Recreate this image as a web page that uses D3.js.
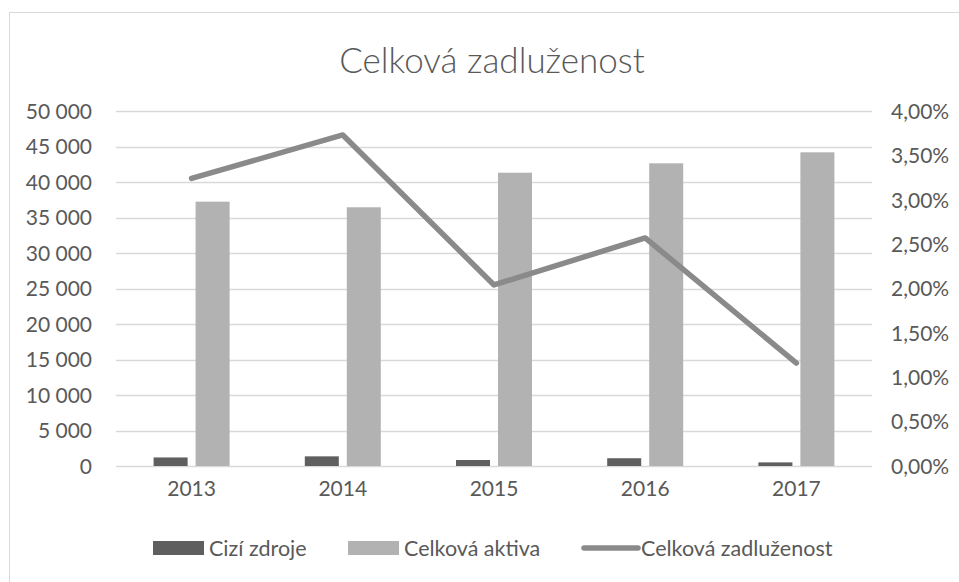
<!DOCTYPE html>
<html lang="cs">
<head>
<meta charset="utf-8">
<title>Celková zadluženost</title>
<style>
  body { margin: 0; background: #fff; }
  svg text { font-family: "Lato", "Liberation Sans", sans-serif; fill: #595959; }
  .grid line { stroke: #d9d9d9; stroke-width: 1.6; }
</style>
</head>
<body>
<svg id="chart" width="959" height="582"></svg>
<script src="https://cdn.jsdelivr.net/npm/d3@7"></script>
<script>
// data
var years = ["2013", "2014", "2015", "2016", "2017"];
var ciziZdroje = [1205, 1360, 845, 1095, 510];
var celkovaAktiva = [37230, 36440, 41310, 42630, 44180];
var zadluzenost = [0.0324, 0.0373, 0.0204, 0.0257, 0.0116];
var leftTicks = [0, 5000, 10000, 15000, 20000, 25000, 30000, 35000, 40000, 45000, 50000];
var rightTicks = [0, 0.005, 0.01, 0.015, 0.02, 0.025, 0.03, 0.035, 0.04];
var seriesNames = ["Cizí zdroje", "Celková aktiva", "Celková zadluženost"];

var svg = d3.select("#chart");
var plot = {left: 116, right: 872, top: 111, bottom: 466};

// chart area border (right and bottom edges sit outside the window)
svg.append("rect")
    .attr("x", 9.5).attr("y", 12.5)
    .attr("width", 980).attr("height", 600)
    .attr("fill", "none").attr("stroke", "#d9d9d9");

svg.append("text")
    .attr("x", 492).attr("y", 73)
    .attr("text-anchor", "middle")
    .style("font-size", "35px")
    .style("font-weight", 300)
    .text("Celková zadluženost");

var x = d3.scaleBand().domain(years).range([plot.left, plot.right]);
var y = d3.scaleLinear().domain([0, 50000]).range([plot.bottom, plot.top]);
var y2 = d3.scaleLinear().domain([0, 0.04]).range([plot.bottom, plot.top]);

var fmtLeft = function(d) { return d3.format(",")(d).replace(/,/g, " "); };
var fmtRight = function(d) { return d3.format(".2f")(d * 100).replace(".", ",") + "%"; };

svg.append("g").attr("class", "grid")
  .selectAll("line").data(leftTicks).enter().append("line")
    .attr("x1", plot.left).attr("x2", plot.right)
    .attr("y1", function(d) { return Math.round(y(d)) + 0.5; })
    .attr("y2", function(d) { return Math.round(y(d)) + 0.5; });

// left axis
var gl = svg.append("g")
    .attr("transform", "translate(" + (plot.left - 24) + ",0)")
    .call(d3.axisLeft(y).tickValues(leftTicks).tickFormat(fmtLeft).tickSize(0).tickPadding(0));
gl.select(".domain").remove();
gl.selectAll("text").style("font-size", "21px").attr("dy", "0.35em");

// right axis
var gr = svg.append("g")
    .attr("transform", "translate(" + (plot.right + 19) + ",0)")
    .call(d3.axisRight(y2).tickValues(rightTicks).tickFormat(fmtRight).tickSize(0).tickPadding(0));
gr.select(".domain").remove();
gr.selectAll("text").style("font-size", "21px").attr("dy", "0.35em");

// bottom axis
var gb = svg.append("g")
    .attr("transform", "translate(0," + plot.bottom + ")")
    .call(d3.axisBottom(x).tickSize(0).tickPadding(23));
gb.select(".domain").remove();
gb.selectAll("text").style("font-size", "21px").attr("dy", "0.35em");

// clustered columns
var keys = [0, 1];
var sub = d3.scaleBand().domain(keys).range([0, 76]).paddingInner(0.19);
var colors = ["#5f5f5f", "#b2b2b2"];
var values = [ciziZdroje, celkovaAktiva];

keys.forEach(function(k) {
  svg.append("g").selectAll("rect")
    .data(years).enter().append("rect")
      .attr("x", function(d) { return x(d) + (x.bandwidth() - 76) / 2 + sub(k); })
      .attr("width", sub.bandwidth())
      .attr("y", function(d, i) { return y(values[k][i]); })
      .attr("height", function(d, i) { return plot.bottom - y(values[k][i]); })
      .attr("fill", colors[k]);
});

// line on secondary axis
var line = d3.line()
    .x(function(d, i) { return x(years[i]) + x.bandwidth() / 2; })
    .y(function(d) { return y2(d); });

svg.append("path")
    .datum(zadluzenost)
    .attr("d", line)
    .attr("fill", "none")
    .attr("stroke", "#8a8a8a")
    .attr("stroke-width", 5.5)
    .attr("stroke-linecap", "round")
    .attr("stroke-linejoin", "round");

// legend
var legend = svg.append("g");
var lx = [153, 348, 582];
var tx = [209, 404, 641];
var ly = 548;
legend.append("rect").attr("x", lx[0]).attr("y", ly - 7).attr("width", 51).attr("height", 14).attr("fill", colors[0]);
legend.append("rect").attr("x", lx[1]).attr("y", ly - 7).attr("width", 51).attr("height", 14).attr("fill", colors[1]);
legend.append("line").attr("x1", lx[2] + 2).attr("x2", lx[2] + 56).attr("y1", ly).attr("y2", ly)
    .attr("stroke", "#8a8a8a").attr("stroke-width", 5.5).attr("stroke-linecap", "round");
legend.selectAll("text.lg").data(seriesNames).enter().append("text")
    .attr("class", "lg")
    .attr("x", function(d, i) { return tx[i]; })
    .attr("y", ly)
    .attr("dy", "0.35em")
    .style("font-size", "21.5px")
    .text(function(d) { return d; });
</script>
</body>
</html>
